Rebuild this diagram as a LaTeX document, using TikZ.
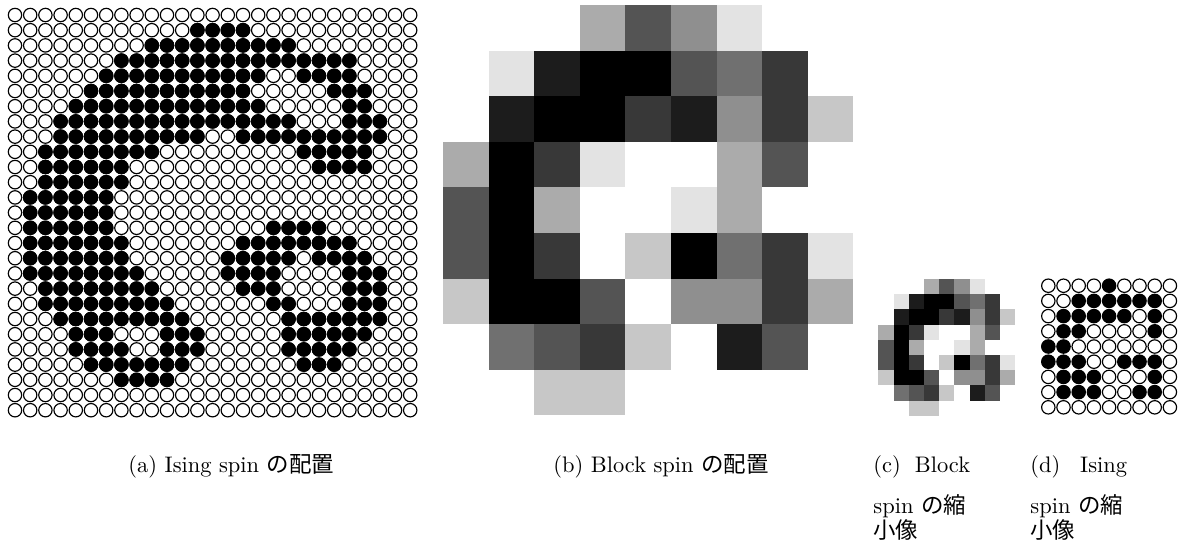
\documentclass[tikz,border=0pt]{standalone}
\usepackage{fontspec}
\newfontfamily\jpfont{Noto Sans CJK JP}
\newcommand{\jp}[1]{{\jpfont #1}}
% number of up spins in each 3x3 block, row by row
\newcommand{\blockcounts}{{0,0,0,3,6,4,1,0,0},{0,1,8,9,9,6,5,7,0},{0,8,9,9,7,8,4,7,2},{3,9,7,1,0,0,3,6,0},{6,9,3,0,0,1,3,0,0},{6,9,7,0,2,9,5,7,1},{2,9,9,6,0,4,4,7,3},{0,5,6,7,2,0,8,6,0},{0,0,2,2,0,0,0,0,0}}

\begin{document}
\begin{tikzpicture}[x=0.445pt, y=-0.445pt,
  spin/.style={draw=black, line width=0.52pt, fill=white},
  upspin/.style={spin, fill=black},
  caption/.style={anchor=base west, inner sep=0pt}]
  \useasboundingbox (0,0) rectangle (1182,555);

  % (a) Ising spins, 27x27
  \foreach \r in {0,...,26}
    \foreach \c in {0,...,26}
      \draw[spin] (15+15.2*\c, 15+15.2*\r) circle[radius=2.98pt];
  \foreach \r/\a/\b in {1/12/15, 2/9/18, 3/7/22, 4/6/16, 4/19/22, 5/5/15, 5/21/23,
      6/4/16, 6/22/23, 7/3/18, 7/22/24, 8/3/12, 8/15/24, 9/2/9, 9/19/23,
      10/2/7, 10/20/23, 11/2/7, 12/1/6, 13/1/6, 14/1/6, 14/17/20,
      15/1/7, 15/15/22, 16/1/7, 16/14/18, 16/20/23, 17/1/8, 17/14/17, 17/22/24,
      18/2/9, 18/15/17, 18/22/24, 19/2/10, 19/17/18, 19/22/24, 20/3/11, 20/18/24,
      21/4/6, 21/10/12, 21/18/23, 22/4/7, 22/10/12, 22/18/22, 23/5/11, 23/19/21,
      24/7/10}
    \foreach \c in {\a,...,\b}
      \draw[upspin] (15+15.2*\c, 15+15.2*\r) circle[radius=2.98pt];

  % (b), (c) block spins and (d) majority spins
  \foreach \row [count=\r from 0] in \blockcounts
    \foreach \k [count=\c from 0] in \row {
      \pgfmathtruncatemacro\shade{round(100*\k/9)}
      \fill[black!\shade] (443+45.6*\c, 5+45.6*\r) rectangle ++(45.6,45.6);
      \fill[black!\shade] (878.3+15.2*\c, 279+15.2*\r) rectangle ++(15.2,15.2);
      \ifnum\k>4
        \draw[upspin] (1048.3+15.2*\c, 285.7+15.2*\r) circle[radius=2.98pt];
      \else
        \draw[spin] (1048.3+15.2*\c, 285.7+15.2*\r) circle[radius=2.98pt];
      \fi
    }

  % captions
  \node[caption] (capa) at (128,472) {(a) Ising spin \jp{の配置}};
  \node[caption] (capb) at (553,472) {(b) Block spin \jp{の配置}};
  \node[caption, text width=43pt] (capc1) at (873,472) {(c)\hfill Block};
  \node[caption] (capc2) at (873,513) {spin \jp{の縮}};
  \node[caption] (capc3) at (873,538) {\jp{小像}};
  \node[caption, text width=43pt] (capd1) at (1030,472) {(d)\hfill Ising};
  \node[caption] (capd2) at (1030,513) {spin \jp{の縮}};
  \node[caption] (capd3) at (1030,538) {\jp{小像}};
\end{tikzpicture}
\end{document}
